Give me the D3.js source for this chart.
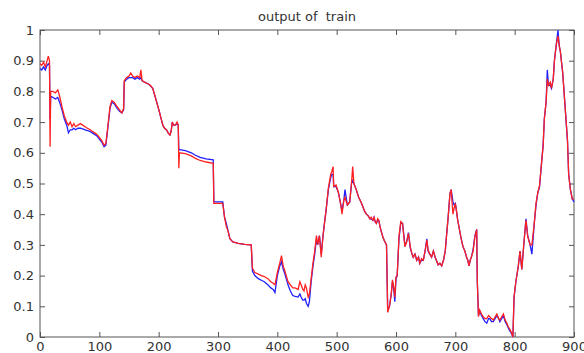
<!DOCTYPE html>
<html>
<head>
<meta charset="utf-8">
<script src="https://cdn.jsdelivr.net/npm/d3@7"></script>
<style>
  body { margin: 0; background: #fff; }
  text { font-family: "DejaVu Sans", sans-serif; fill: #333; }
</style>
</head>
<body>
<svg id="chart"></svg>
<script>
var title = "output of  train";

// sample index (x) shared by both series
var xValues = [0, 3, 6, 9, 12, 14, 16, 17, 18, 22, 26, 30, 33, 37, 41, 45, 48, 51, 54, 57, 60, 64, 68, 72, 76, 80, 84, 88, 92, 96,
    100, 104, 108, 111, 114, 118, 121, 125, 130, 134, 138, 141, 142, 146, 150, 153, 156, 160, 164, 168, 170, 172, 176, 182, 186, 190, 193, 198,
    201, 204, 207, 210, 213, 216, 219, 221, 223, 225, 228, 231, 233, 234, 235, 245, 255, 262, 270, 280, 292, 293,
    300, 308, 311, 314, 317, 320, 325, 334, 345, 356, 358, 362, 368, 373, 378, 384, 389, 393, 396,
    400, 404, 407, 410, 412, 415, 418, 422, 426, 430, 435, 438, 440, 443, 445, 447, 449, 452, 454, 457, 460, 463, 466, 468, 471, 474, 477, 480, 482, 486, 490, 492, 494, 495, 499,
    503, 507, 509, 512, 514, 518, 522, 525, 527, 529, 533, 537, 541, 544, 547, 550, 553, 556, 558, 561, 563, 565, 567, 569, 571, 573, 575, 578, 580, 584, 586, 589, 592, 594, 596, 598,
    600, 602, 605, 608, 611, 615, 618, 621, 624, 627, 629, 632, 635, 638, 640, 643, 646, 649, 652, 654, 657, 660, 663, 666, 668, 671, 674, 677, 680, 683, 685, 688, 691, 693, 696, 698,
    700, 702, 704, 706, 708, 711, 713, 716, 719, 721, 723, 725, 727, 730, 733, 736, 737, 739, 741, 744, 747, 750, 753, 756, 758, 761, 764, 767, 770, 773, 775, 778, 781, 784, 787, 789, 792, 795, 797, 799,
    802, 806, 809, 812, 815, 819, 822, 826, 829, 833, 836, 839, 842, 845, 848, 850, 853, 855, 857, 860, 862, 865, 867, 870, 873, 875, 877, 881, 885, 889, 891, 894, 897, 900];

// target output (blue)
var blueValues = [.875, .87, .88, .87, .885, .89, .885, .71, .785, .78, .775, .78, .765, .74, .71, .69, .665, .675, .675, .68, .675, .68, .68, .678, .675, .672, .67, .665, .66, .655,
    .645, .635, .62, .625, .675, .745, .765, .76, .745, .735, .73, .74, .83, .84, .845, .845, .845, .84, .845, .84, .845, .835, .83, .825, .818, .81, .79, .756,
    .735, .712, .69, .68, .675, .665, .658, .67, .70, .69, .69, .695, .69, .61, .61, .607, .60, .592, .585, .58, .577, .44,
    .44, .44, .39, .37, .345, .32, .31, .305, .302, .30, .215, .20, .19, .185, .18, .17, .16, .155, .145,
    .20, .23, .245, .22, .21, .19, .17, .15, .135, .132, .13, .14, .13, .12, .12, .125, .11, .10, .115, .18, .23, .27, .32, .30, .33, .27, .33, .38, .41, .48, .52, .53, .53, .49, .49,
    .47, .43, .41, .445, .48, .43, .44, .50, .51, .50, .48, .455, .44, .425, .41, .40, .395, .385, .385, .38, .39, .375, .37, .38, .38, .36, .345, .325, .315, .30, .09, .10, .14, .18, .16, .115,
    .19, .20, .32, .37, .37, .30, .31, .34, .29, .27, .26, .27, .25, .26, .24, .25, .25, .28, .32, .28, .27, .26, .28, .26, .25, .235, .24, .232, .25, .28, .327, .392, .468, .48, .44, .43,
    .435, .41, .38, .36, .338, .31, .294, .28, .26, .25, .232, .25, .26, .285, .33, .35, .18, .07, .085, .07, .06, .05, .045, .06, .06, .05, .05, .06, .07, .06, .05, .06, .07, .05, .04, .03, .02, .01, .0, .13,
    .18, .229, .28, .22, .29, .385, .33, .30, .27, .37, .43, .47, .49, .56, .625, .71, .766, .87, .82, .82, .81, .84, .90, .95, 1.0, .95, .93, .86, .75, .64, .53, .48, .45, .44];

// network output (red)
var redValues = [.89, .885, .895, .88, .90, .915, .90, .62, .80, .80, .795, .805, .785, .75, .72, .70, .69, .70, .685, .695, .685, .69, .695, .69, .685, .68, .676, .67, .665, .66,
    .65, .64, .625, .63, .68, .75, .77, .765, .75, .74, .73, .745, .835, .845, .85, .86, .85, .845, .85, .845, .87, .835, .83, .825, .82, .81, .79, .756,
    .735, .712, .69, .68, .675, .665, .658, .67, .70, .69, .69, .70, .69, .55, .60, .597, .59, .582, .575, .57, .566, .435,
    .435, .435, .39, .36, .345, .32, .31, .305, .302, .30, .225, .21, .205, .20, .197, .19, .18, .175, .17,
    .21, .24, .265, .23, .22, .20, .18, .17, .16, .16, .155, .18, .17, .155, .15, .17, .16, .13, .14, .19, .24, .28, .33, .30, .33, .26, .33, .38, .41, .485, .53, .54, .555, .49, .495,
    .47, .43, .40, .445, .455, .43, .44, .50, .555, .50, .48, .455, .44, .425, .41, .40, .395, .385, .39, .38, .39, .375, .37, .385, .38, .36, .345, .325, .315, .30, .08, .10, .14, .186, .164, .13,
    .196, .20, .327, .376, .37, .294, .31, .338, .294, .27, .26, .27, .25, .26, .24, .255, .25, .28, .316, .284, .27, .26, .28, .26, .25, .235, .24, .232, .25, .28, .327, .392, .468, .48, .40, .42,
    .435, .41, .38, .36, .338, .31, .294, .28, .26, .25, .232, .25, .26, .28, .327, .35, .186, .066, .088, .075, .066, .06, .06, .07, .066, .06, .055, .065, .075, .06, .055, .065, .075, .055, .045, .034, .025, .012, .0, .131,
    .18, .229, .28, .22, .294, .38, .327, .30, .30, .37, .435, .47, .495, .56, .625, .71, .766, .84, .82, .83, .81, .84, .90, .95, .98, .95, .93, .86, .75, .64, .53, .48, .45, .45];

var xTicks = [0, 100, 200, 300, 400, 500, 600, 700, 800, 900];
var yTicks = [0, 0.1, 0.2, 0.3, 0.4, 0.5, 0.6, 0.7, 0.8, 0.9, 1];

var W = 584, H = 353;
var margin = {top: 30, right: 10, bottom: 16, left: 40};
var width = W - margin.left - margin.right;
var height = H - margin.top - margin.bottom;

var svg = d3.select('#chart')
    .attr('width', W)
    .attr('height', H)
    .append('g')
    .attr('transform', 'translate(' + margin.left + ',' + margin.top + ')');

var xScale = d3.scaleLinear().domain([0, 900]).range([0, width]);
var yScale = d3.scaleLinear().domain([0, 1]).range([height, 0]);

var axisColor = '#555';

// box
svg.append('rect')
    .attr('x', 0).attr('y', 0)
    .attr('width', width).attr('height', height)
    .attr('fill', 'none')
    .attr('stroke', axisColor);

function styleAxis(g) {
    g.select('.domain').remove();
    g.selectAll('.tick line').attr('stroke', axisColor);
    g.selectAll('.tick text')
        .style('font-family', '"DejaVu Sans", sans-serif')
        .style('font-size', '13px')
        .attr('fill', '#333');
}

// bottom + top (ticks point inward)
svg.append('g')
    .attr('transform', 'translate(0,' + height + ')')
    .call(d3.axisBottom(xScale).tickValues(xTicks).tickSize(-5).tickPadding(5).tickFormat(d3.format('d')))
    .call(styleAxis);
svg.append('g')
    .call(d3.axisTop(xScale).tickValues(xTicks).tickSize(-5).tickFormat(''))
    .call(styleAxis);

// left + right
svg.append('g')
    .call(d3.axisLeft(yScale).tickValues(yTicks).tickSize(-5).tickPadding(6).tickFormat(d3.format('~g')))
    .call(styleAxis);
svg.append('g')
    .attr('transform', 'translate(' + width + ',0)')
    .call(d3.axisRight(yScale).tickValues(yTicks).tickSize(-5).tickFormat(''))
    .call(styleAxis);

var line = d3.line()
    .x(function (d) { return xScale(d[0]); })
    .y(function (d) { return yScale(d[1]); });

var blueData = xValues.map(function (x, i) { return [x, blueValues[i]]; });
var redData = xValues.map(function (x, i) { return [x, redValues[i]]; });

svg.append('path')
    .datum(blueData)
    .attr('d', line)
    .attr('fill', 'none')
    .attr('stroke', '#2020ff')
    .attr('stroke-width', 1.3);

svg.append('path')
    .datum(redData)
    .attr('d', line)
    .attr('fill', 'none')
    .attr('stroke', '#ff2020')
    .attr('stroke-width', 1.3);

// title
svg.append('text')
    .attr('x', width / 2)
    .attr('y', -9)
    .attr('text-anchor', 'middle')
    .style('font-size', '13px')
    .style('white-space', 'pre')
    .text(title);
</script>
</body>
</html>
